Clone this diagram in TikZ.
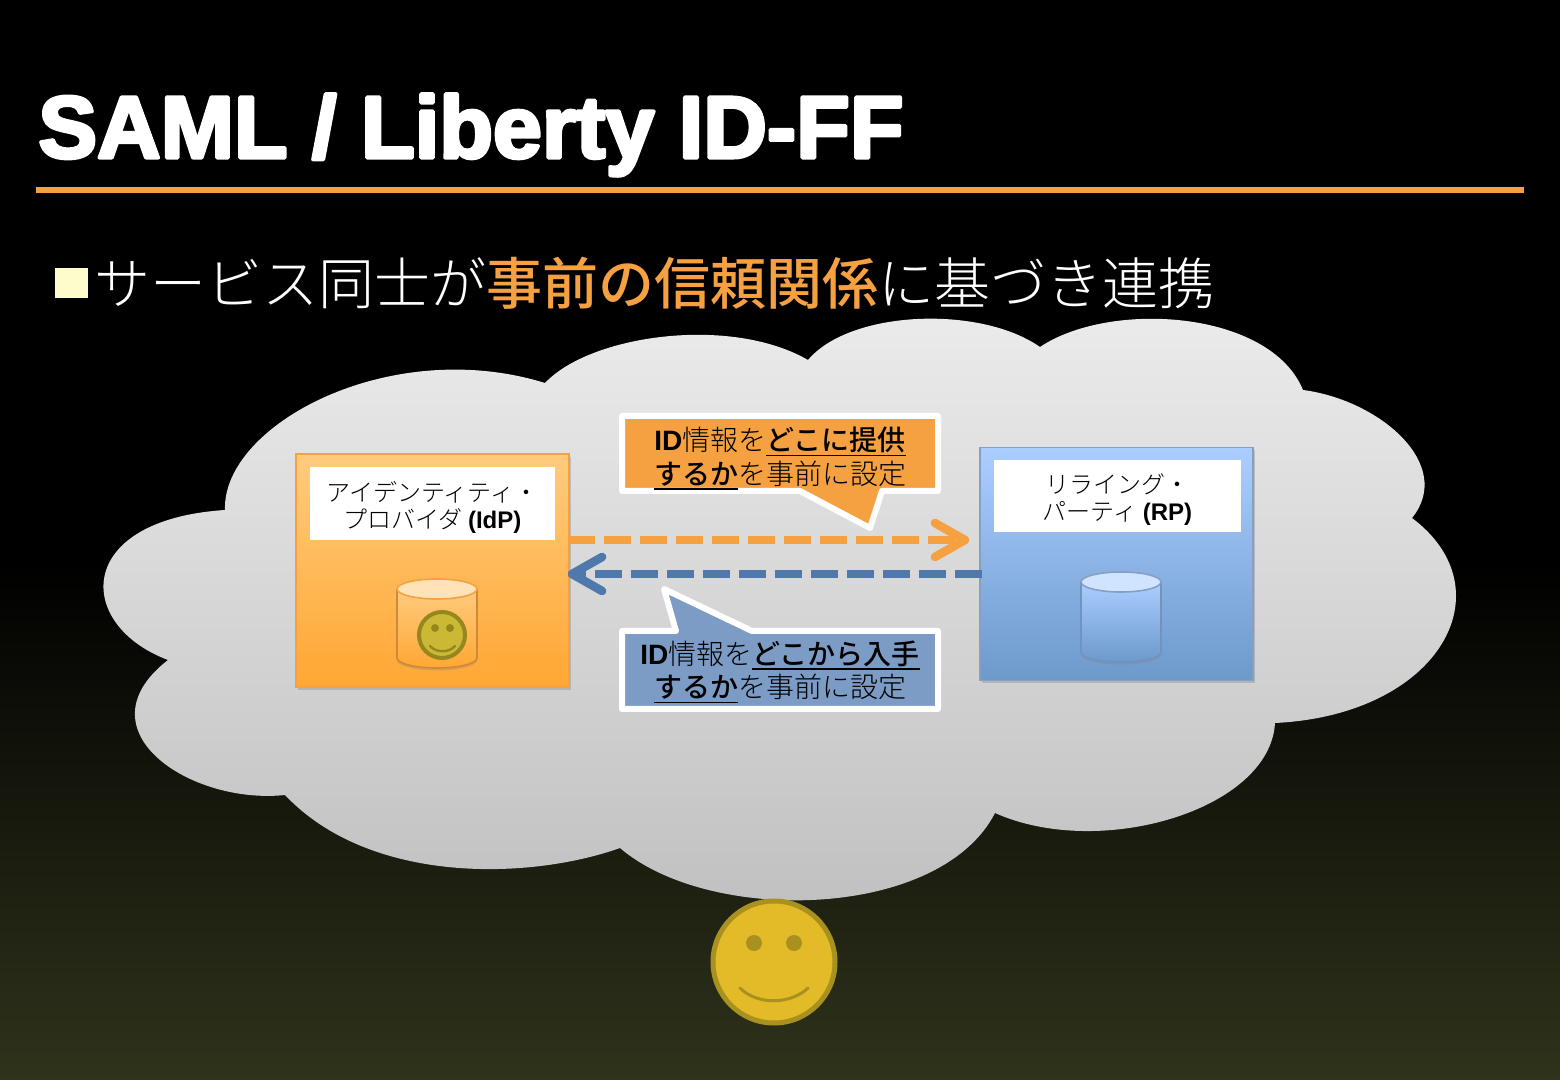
\documentclass[tikz,border=0pt]{standalone}
\usepackage{fontspec}
\setmainfont[BoldFont={Noto Sans CJK JP Medium}]{Noto Sans CJK JP Light}
\newfontfamily\latinfont{Liberation Sans}
\newfontfamily\titlefont[UprightFeatures={FakeBold=4}]{Liberation Sans Bold}
\usetikzlibrary{arrows.meta,shadows}

\definecolor{bgbottom}{HTML}{2F331B}
\definecolor{accent}{HTML}{F5A142}
\definecolor{rule}{HTML}{F5A142}
\definecolor{arrowblue}{HTML}{4F78AC}
\definecolor{calloutblue}{HTML}{7C9CC6}
\definecolor{idptop}{HTML}{FFCB7E}
\definecolor{idpbottom}{HTML}{FFA733}
\definecolor{rptop}{HTML}{AACEFF}
\definecolor{rpbottom}{HTML}{6D99CB}
\definecolor{facefill}{HTML}{E3BA27}
\definecolor{faceline}{HTML}{A8911F}
\definecolor{smallfill}{HTML}{CBB936}
\definecolor{smallline}{HTML}{96861E}

\newcommand{\ulbf}[1]{\setbox0\hbox{\bfseries #1}\rlap{\rule[-2.6pt]{\wd0}{.8pt}}\box0}

\tikzset{
	servicebox/.style={draw,line width=.8pt,minimum width=136.5pt,minimum height=116.5pt,inner sep=0pt,drop shadow={opacity=.35,shadow xshift=.8pt,shadow yshift=-1.4pt}},
	namebox/.style={fill=white,inner sep=0pt,align=center,font=\fontsize{12}{13.5}\selectfont},
	calloutshape/.style={draw=white,line width=3pt,line join=round,drop shadow={opacity=.35,shadow xshift=.6pt,shadow yshift=-1pt}},
	callouttext/.style={align=center,inner sep=0pt,font=\fontsize{14}{16.7}\selectfont},
	flow/.style={line width=4.3pt,dash pattern=on 13.5pt off 4.5pt,-{Straight Barb[round,length=15pt,width=17pt]}},
	storeshadow/.style={drop shadow={opacity=.3,shadow xshift=0pt,shadow yshift=-1.2pt}},
}

\begin{document}
\begin{tikzpicture}[x=.5pt,y=-.5pt]
	\useasboundingbox (0,0) rectangle (1560,1080);

	% background
	\fill[black] (0,0) rectangle (1560,561);
	\shade[top color=black,bottom color=bgbottom] (0,560) rectangle (1560,1080);

	% title
	\node[anchor=west,inner sep=0pt,text=white] (title) at (38,135) {\special{pdf:code 1 j 1 J}\titlefont\fontsize{44}{48}\selectfont SAML / Liberty ID-FF};
	\draw[rule,line width=3pt] (36,190) -- (1524,190);

	\fill[fill=yellow!20] (55,268) rectangle (88,298);
	\node[anchor=west,inner sep=0pt,text=white] (headline) at (94,283) {\fontsize{28}{30}\selectfont サービス同士が\textcolor{accent}{\bfseries 事前の信頼関係}に基づき連携};

	% cloud
	\shade[top color=gray!15,bottom color=gray!50] (225,510)
		.. controls (222,425) and (390,335) .. (545,383)
		.. controls (590,335) and (730,315) .. (808,360)
		.. controls (850,310) and (980,305) .. (1040,347)
		.. controls (1110,300) and (1270,310) .. (1303,390)
		.. controls (1380,400) and (1455,465) .. (1412,518)
		.. controls (1508,590) and (1440,715) .. (1275,723)
		.. controls (1270,810) and (1100,860) .. (995,813)
		.. controls (940,920) and (710,925) .. (620,848)
		.. controls (530,880) and (370,885) .. (285,795)
		.. controls (190,805) and (78,730) .. (168,660)
		.. controls (75,625) and (73,520) .. (225,510) -- cycle;

	% services
	\node[servicebox,draw=rule,top color=idptop,bottom color=idpbottom] (idp) at (432.5,570.5) {};
	\node[namebox,minimum width=122.5pt,minimum height=36.5pt] (idpname) at (432.5,503.5) {\rule{0pt}{13.5pt}アイデンティティ・\\プロバイダ {\latinfont\bfseries (IdP)}};

	\node[servicebox,draw=arrowblue!70,top color=rptop,bottom color=rpbottom] (rp) at (1116.5,564) {};
	\node[namebox,minimum width=123.5pt,minimum height=36pt] (rpname) at (1117.5,496) {\rule{0pt}{13pt}リライング・\\パーティ {\latinfont\bfseries (RP)}};

	% stores
	\draw[draw=rule!85!black,line width=.8pt,top color=idptop,bottom color=idpbottom,storeshadow] (397,589) -- (397,658) arc[start angle=180,end angle=360,x radius=20pt,y radius=5pt] -- (477,589) -- cycle;
	\draw[rule,line width=.8pt,fill=idptop!55!white] (437,589) ellipse[x radius=20pt,y radius=5pt];

	\draw[draw=arrowblue!80,line width=.8pt,top color=rptop,bottom color=rpbottom,storeshadow] (1081,582) -- (1081,652) arc[start angle=180,end angle=360,x radius=20pt,y radius=5pt] -- (1161,582) -- cycle;
	\draw[arrowblue!70,line width=.8pt,fill=rptop!55!white] (1121,582) ellipse[x radius=20pt,y radius=5pt];

	% small face
	\draw[fill=smallfill,draw=smallline,line width=2pt] (442,635) circle[radius=11.5pt];
	\fill[smallline] (435,628) circle[radius=2pt] (450,628) circle[radius=2pt];
	\draw[smallline,line width=1.2pt,line cap=round] (430,646) .. controls (436,653) and (449,653) .. (455,646);

	% flows
	\draw[flow,accent,shorten <=-1pt,shorten >=5pt] ([yshift=15.25pt]idp.east) -- ([yshift=12pt]rp.west);
	\draw[flow,arrowblue,shorten <=-1.5pt,shorten >=-1pt] ([yshift=-5pt]rp.west) -- ([yshift=-1.75pt]idp.east);

	% callouts
	\draw[calloutshape,fill=accent] (622,416) -- (938,416) -- (938,491) -- (882,491) -- (870,528) -- (800,491) -- (622,491) -- cycle;
	\node[callouttext] (provide) at (780,458.5) {{\latinfont\bfseries ID}情報を\ulbf{どこに提供}\\\ulbf{するか}を事前に設定};

	\draw[calloutshape,fill=calloutblue] (622,631) -- (676,631) -- (664,589) -- (752,631) -- (938,631) -- (938,709) -- (622,709) -- cycle;
	\node[callouttext] (obtain) at (780,672) {{\latinfont\bfseries ID}情報を\ulbf{どこから入手}\\\ulbf{するか}を事前に設定};

	% user
	\draw[fill=facefill,draw=faceline,line width=2.5pt] (774,962) circle[radius=30.5pt];
	\fill[faceline] (754,943) circle[radius=4pt] (794,943) circle[radius=4pt];
	\draw[faceline,line width=1.5pt,line cap=round] (740,988) .. controls (757,1005) and (790,1005) .. (808,988);
\end{tikzpicture}
\end{document}
